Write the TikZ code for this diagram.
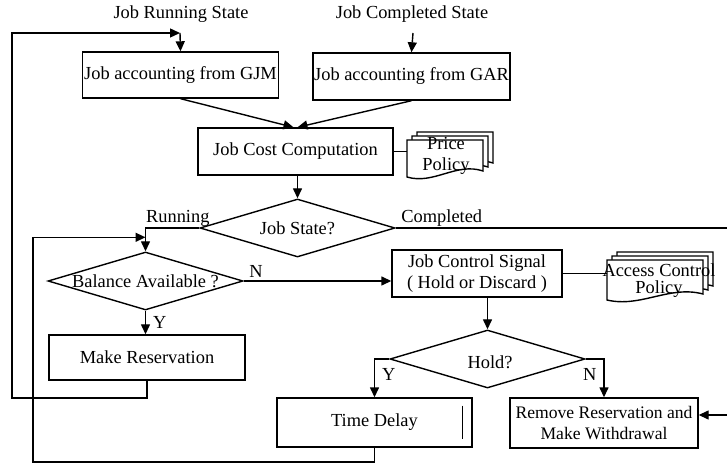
\documentclass[tikz,border=0pt]{standalone}
\usepackage{fontspec}
\setmainfont{Liberation Serif}
\usetikzlibrary{arrows.meta,shapes.geometric}

\tikzset{
	box/.style={draw,line width=.7pt,minimum width=97.5pt,minimum height=23.5pt,align=center,inner sep=0pt},
	cond/.style={draw,diamond,line width=.7pt,minimum width=97.5pt,minimum height=29pt,inner sep=0pt},
	flow/.style={line width=.7pt,-{Triangle[length=5pt,width=4.5pt]}},
	wire/.style={line width=.7pt},
	tag/.style={inner sep=.5pt},
	pics/policy/.style 2 args={code={
		\foreach \s in {2,1,0}
			\filldraw[wire,fill=white,shift={(5*\s,-4*\s)}] (0,0)--(#1,0)--(#1,#2-6)
			.. controls (0.65*#1,#2-15) and (0.35*#1,#2+8) .. (0,#2)--cycle;
		\coordinate (-in) at (0,#2/2);
	}}
}

\begin{document}
\begin{tikzpicture}[font=\fontsize{9.2}{10.5}\selectfont]
\begin{scope}[x=.5pt,y=-.5pt]
	\useasboundingbox (0,0) rectangle (727,464);
	% inputs and accounting
	\node[tag] (runlbl) at (181,14) {Job Running State};
	\node[tag] (donelbl) at (412,14) {Job Completed State};
	\coordinate (runin) at (180,33);
	\coordinate (donein) at (413,33);
	\node[box,minimum width=98pt,minimum height=23pt] (gjm) at (180.5,75) {Job accounting from GJM};
	\node[box,minimum width=98.5pt] (gar) at (411.5,76.5) {Job accounting from GAR};
	\node[box] (cost) at (295.5,151.5) {Job Cost Computation};
	\pic (pp) at (407,140) {policy={76}{37}};
	\node[tag,align=center] (price) at (446,156) {Price\\Policy};
	% decisions
	\node[cond,label={center:Job State?}] (state) at (297.5,228) {};
	\node[cond,label={center:Balance Available ?}] (bal) at (145.5,281) {};
	\node[box,minimum width=85pt] (ctrl) at (477,273.5) {Job Control Signal\\( Hold or Discard )};
	\pic (ap) at (607,260) {policy={96}{40}};
	\node[tag,align=center] (access) at (659,281) {Access Control\\[-2pt]Policy};
	\node[box,minimum width=98pt,minimum height=22.5pt] (res) at (147,357.5) {Make Reservation};
	\node[cond] (hold) at (487.5,359) {};
	\node[tag] (holdtxt) at (490,362) {Hold?};
	\node[box,minimum height=24.5pt] (delay) at (374.5,422.5) {Time Delay};
	\node[box,minimum width=94pt,minimum height=25pt,font=\fontsize{8.8}{10.2}\selectfont] (remove) at (604,423)
		{Remove Reservation and\\Make Withdrawal};
	\draw[wire] ([shift={(-10,-17)}]delay.east)--([shift={(-10,16)}]delay.east);
	% connectors
	\coordinate (rim) at (745,415);
	\coordinate (loopa) at (12,398);
	\coordinate (loopb) at (33,462);
	\path (bal.north) ++(0,-14) coordinate (balin);
	\draw[flow] (runin)--(gjm.north);
	\draw[flow] (donein)--(gar.north);
	\draw[flow] (gjm.south)--([xshift=-1pt]cost.north);
	\draw[flow] (gar.south)--([xshift=1pt]cost.north);
	\draw[wire] (cost.east)--(cost.east -| pp-in);
	\draw[flow] (state.north |- cost.south)--(state.north);
	\draw[flow] (state.west) -| (bal.north) node[tag,pos=.2,above] {Running};
	\draw[flow] (state.east) -| node[tag,pos=0,anchor=south west,xshift=2pt] {Completed} (rim)
		--(rim -| remove.east);
	\draw[flow] (bal.east)--(bal.east -| ctrl.west) node[tag,pos=0,anchor=south west,xshift=2pt,yshift=1pt] {N};
	\draw[flow] (bal.south)--(bal.south |- res.north) node[tag,midway,right,xshift=3pt] {Y};
	\draw[wire] (ctrl.east)--(ctrl.east -| ap-in);
	\draw[flow] (hold.north |- ctrl.south)--(hold.north);
	\draw[flow] (hold.west) -| (delay.north) node[tag,pos=.7,right,xshift=3pt] {Y};
	\draw[flow] (hold.east) -| (remove.north) node[tag,pos=.7,left,xshift=-3pt] {N};
	\draw[flow] (res.south) |- (loopa) |- (runin);
	\draw[flow] (delay.south) |- (loopb) |- (balin);
\end{scope}
\end{tikzpicture}
\end{document}
